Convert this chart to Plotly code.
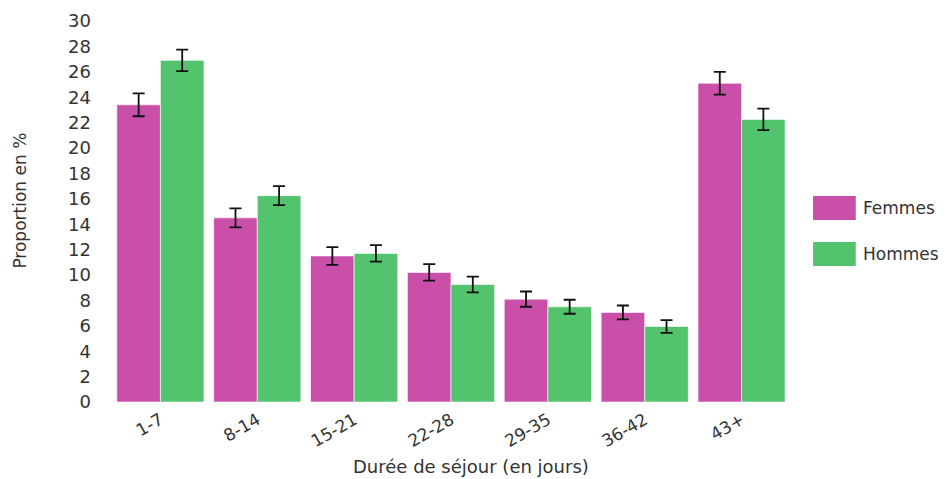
import plotly.graph_objects as go

CATEGORIES = ["1-7", "8-14", "15-21", "22-28", "29-35", "36-42", "43+"]
FEMMES = [23.4, 14.5, 11.5, 10.2, 8.1, 7.05, 25.1]
FEMMES_ERR = [0.9, 0.75, 0.7, 0.65, 0.6, 0.55, 0.9]
HOMMES = [26.9, 16.25, 11.7, 9.25, 7.5, 5.95, 22.25]
HOMMES_ERR = [0.85, 0.75, 0.65, 0.62, 0.55, 0.5, 0.85]
Y_TICKS = list(range(0, 31, 2))

PINK = "#c94fa8"
GREEN = "#53c46d"
INK = "#333333"
FONT = "DejaVu Sans, Verdana, sans-serif"

fig = go.Figure()
for name, vals, errs, color in [("Femmes", FEMMES, FEMMES_ERR, PINK),
                                ("Hommes", HOMMES, HOMMES_ERR, GREEN)]:
    fig.add_trace(go.Bar(
        x=CATEGORIES, y=vals, name=name, showlegend=False,
        marker=dict(color=color, line=dict(color="rgba(255,255,255,0.6)", width=1)),
        error_y=dict(type="data", array=errs, visible=True,
                     color="#111111", thickness=1.8, width=6),
    ))

# legend drawn by hand to get the large swatches
for i, (name, color) in enumerate([("Femmes", PINK), ("Hommes", GREEN)]):
    y0 = 0.478 - i * 0.121
    fig.add_shape(type="rect", xref="paper", yref="paper",
                  x0=1.034, x1=1.097, y0=y0, y1=y0 + 0.063,
                  fillcolor=color, line=dict(width=0))
    fig.add_annotation(xref="paper", yref="paper", x=1.104, y=y0 + 0.031,
                       text=name, showarrow=False, xanchor="left", yanchor="middle",
                       font=dict(size=17, color=INK, family=FONT))

# axis titles placed by hand (automargin off)
fig.add_annotation(xref="paper", yref="paper", x=0.53, y=-0.17,
                   xanchor="center", yanchor="middle",
                   text="Durée de séjour (en jours)", showarrow=False,
                   font=dict(size=18, color=INK, family=FONT))
fig.add_annotation(xref="paper", yref="paper", x=-0.136, y=0.528,
                   xanchor="center", yanchor="middle",
                   text="Proportion en %", showarrow=False, textangle=-90,
                   font=dict(size=17, color=INK, family=FONT))

# page body adds an 8px margin, so the figure is offset by 8px
fig.update_layout(
    barmode="group", bargap=0.1, bargroupgap=0,
    width=938, height=471,
    paper_bgcolor="white", plot_bgcolor="white",
    font=dict(family=FONT, color=INK, size=17),
    margin=dict(l=104, r=156, t=13, b=77),
)
fig.update_xaxes(tickangle=-30, showgrid=False, showline=False, ticks="",
                 tickfont=dict(size=17), automargin=False, ticklabelstandoff=4)
fig.update_yaxes(range=[0, 30], tickvals=Y_TICKS, showgrid=False, zeroline=False,
                 showline=False, ticks="", tickfont=dict(size=18), automargin=False,
                 ticklabelstandoff=20)

fig.write_html("out.html")
